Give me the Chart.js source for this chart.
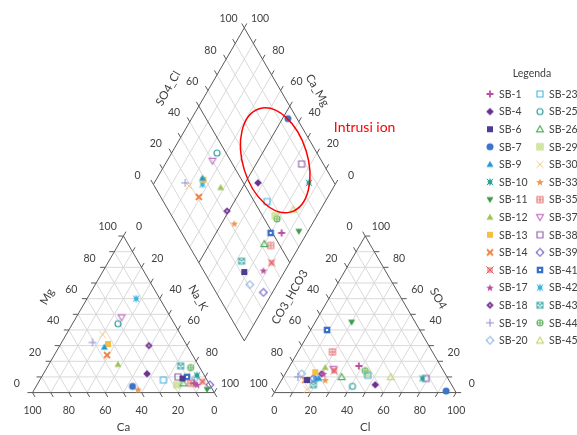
<!DOCTYPE html>
<html>
<head>
<meta charset="utf-8">
<script src="https://cdn.jsdelivr.net/npm/chart.js@4.4.0/dist/chart.umd.min.js"></script>
<style>
  html, body { margin: 0; padding: 0; background: #fff; }
  #wrap { position: relative; width: 577px; height: 435px; }
</style>
</head>
<body>
<div id="wrap"><canvas id="piper"></canvas></div>
<script>
// samples and their milliequivalent percentages
const samples = ['SB-1','SB-4','SB-6','SB-7','SB-9','SB-10','SB-11','SB-12','SB-13','SB-14','SB-16','SB-17','SB-18','SB-19','SB-20',
                 'SB-23','SB-25','SB-26','SB-29','SB-30','SB-33','SB-35','SB-37','SB-38','SB-39','SB-41','SB-42','SB-43','SB-44','SB-45'];
const ca   = [8,31,13,43,46,4,3,44,43,47,3,7,21,51,6, 24,31,14,18,43,41,10,27,15,0,10,13,10,5,8];
const mg   = [6,12,9,4,29,11,2,18,31,24,7,5,30,32,9, 8,44,6,5,37,2,6,48,10,5,10,60,17,16,7];
const naK  = [86,57,78,53,25,85,95,38,26,29,90,88,49,17,85, 68,25,80,77,20,57,84,25,75,95,80,27,73,79,85];
const cl   = [38,53,14,94,20,77,20,20,16,13,26,21,20,8,9, 46,41,32,45,17,24,19,25,79,17,9,18,19,43,59];
const so4  = [17,5,8,1,9,9,45,16,13,8,14,12,12,10,12, 11,4,10,12,2,8,26,15,9,9,40,9,5,14,10];
const hco3 = [45,42,78,5,71,14,35,64,71,79,60,67,68,82,79, 43,55,58,43,81,68,55,60,12,74,51,73,76,43,31];

const markers = ['plus','diamondFill','squareFill','circleFill','triFill','burst','triDownFill','triFill','squareFill','xThick','xBox','star5','diamondDot','plusThin','diamondOpen',
                 'squareOpen','circleOpen','triOpen','squareInner','xThin','star5','squarePlus','triDownOpen','squareOpen','diamondOpen','squareDot','burst','squareX','circlePlus','triOpen'];
const colors = ['#b84fa0','#6d3090','#4f3d91','#3b74c8','#1f9ad6','#2ca39a','#3d9a4a','#9dc45a','#f7be45','#f08040','#e8585a','#b9509e','#7a3c96','#8c8cd0','#8fb4e6',
                '#45b5e5','#2a9c9c','#4fae5a','#b7d46e','#f8c98a','#f29550','#e57373','#c374c4','#8d5cac','#6c5fc4','#3a6fc8','#3cb4e6','#4fb0b0','#5fb15f','#c6d67a'];

const tickVals = [0, 20, 40, 60, 80, 100];

// layout of the diagram in triangle-side units (side = 100)
const H = 50 * Math.sqrt(3);
const GAP = 33;
const RX = 100 + GAP;                 // left corner of anion triangle
const DB = [100 + GAP / 2, GAP * Math.sqrt(3) / 2]; // bottom of diamond

function cationPt(i) { return { x: naK[i] + mg[i] / 2, y: mg[i] * H / 100 }; }
function anionPt(i)  { return { x: RX + cl[i] + so4[i] / 2, y: so4[i] * H / 100 }; }
function diamondPt(i) {
  const u = (so4[i] + cl[i]) / 100, v = (ca[i] + mg[i]) / 100;
  return { x: DB[0] + 50 * (u - v), y: DB[1] + H * (u + v) };
}

function markerCanvas(type, color) {
  const s = 10, c = document.createElement('canvas');
  c.width = s; c.height = s;
  const g = c.getContext('2d'), m = s / 2, r = 3;
  g.strokeStyle = color; g.fillStyle = color; g.lineWidth = 1.1;
  const line = (x1, y1, x2, y2) => { g.moveTo(x1, y1); g.lineTo(x2, y2); };
  g.beginPath();
  switch (type) {
    case 'plus': g.lineWidth = 1.8; line(m - 3.5, m, m + 3.5, m); line(m, m - 3.5, m, m + 3.5); g.stroke(); break;
    case 'plusThin': g.lineWidth = 1; line(m - 4, m, m + 4, m); line(m, m - 4, m, m + 4); g.stroke(); break;
    case 'xThick': g.lineWidth = 1.8; line(m - 3, m - 3, m + 3, m + 3); line(m + 3, m - 3, m - 3, m + 3); g.stroke(); break;
    case 'xThin': g.lineWidth = 1; line(m - 3.5, m - 3.5, m + 3.5, m + 3.5); line(m + 3.5, m - 3.5, m - 3.5, m + 3.5); g.stroke(); break;
    case 'squareFill': g.rect(m - r, m - r, 2 * r, 2 * r); g.fill(); break;
    case 'squareOpen': g.rect(m - r, m - r, 2 * r, 2 * r); g.stroke(); break;
    case 'squareInner': g.rect(m - r, m - r, 2 * r, 2 * r); g.rect(m - 1.2, m - 1.2, 2.4, 2.4); g.stroke(); break;
    case 'squarePlus': g.rect(m - r, m - r, 2 * r, 2 * r); line(m - r, m, m + r, m); line(m, m - r, m, m + r); g.stroke(); break;
    case 'squareX': g.rect(m - r, m - r, 2 * r, 2 * r); line(m - r, m - r, m + r, m + r); line(m + r, m - r, m - r, m + r); g.stroke(); break;
    case 'squareDot': g.rect(m - r - 0.3, m - r - 0.3, 2 * r + 0.6, 2 * r + 0.6); g.fill();
      g.fillStyle = '#fff'; g.fillRect(m - 1, m - 1, 2, 2); break;
    case 'circleFill': g.arc(m, m, r + 0.5, 0, Math.PI * 2); g.fill(); break;
    case 'circleOpen': g.arc(m, m, r, 0, Math.PI * 2); g.stroke(); break;
    case 'circlePlus': g.arc(m, m, r, 0, Math.PI * 2); line(m - r, m, m + r, m); line(m, m - r, m, m + r); g.stroke(); break;
    case 'diamondFill': case 'diamondOpen': case 'diamondDot':
      g.moveTo(m, m - 3.8); g.lineTo(m + 3.8, m); g.lineTo(m, m + 3.8); g.lineTo(m - 3.8, m); g.closePath();
      if (type === 'diamondOpen') g.stroke(); else g.fill();
      if (type === 'diamondDot') { g.fillStyle = '#d9c6e6'; g.fillRect(m - 0.8, m - 0.8, 1.6, 1.6); }
      break;
    case 'triFill': case 'triOpen':
      g.moveTo(m, m - 3.4); g.lineTo(m + 3.5, m + 2.6); g.lineTo(m - 3.5, m + 2.6); g.closePath();
      type === 'triOpen' ? g.stroke() : g.fill(); break;
    case 'triDownFill': case 'triDownOpen':
      g.moveTo(m - 3.5, m - 2.6); g.lineTo(m + 3.5, m - 2.6); g.lineTo(m, m + 3.4); g.closePath();
      type === 'triDownOpen' ? g.stroke() : g.fill(); break;
    case 'star5':
      for (let k = 0; k < 10; k++) {
        const a = -Math.PI / 2 + k * Math.PI / 5, rr = k % 2 ? 1.7 : 4;
        const px = m + rr * Math.cos(a), py = m + 0.4 + rr * Math.sin(a);
        k ? g.lineTo(px, py) : g.moveTo(px, py);
      }
      g.closePath(); g.fill(); break;
    case 'burst':
      g.fillRect(m - 2.2, m - 2.2, 4.4, 4.4);
      g.lineWidth = 1;
      line(m - 3.2, m - 3.2, m + 3.2, m + 3.2); line(m + 3.2, m - 3.2, m - 3.2, m + 3.2); line(m, m - 3.6, m, m + 3.6);
      g.stroke(); break;
    case 'xBox':
      g.lineWidth = 1;
      g.rect(m - 2, m - 2, 4, 4);
      line(m - 3.6, m - 3.6, m + 3.6, m + 3.6); line(m + 3.6, m - 3.6, m - 3.6, m + 3.6);
      g.stroke(); break;
  }
  return c;
}

const icons = samples.map((s, i) => markerCanvas(markers[i], colors[i]));

const TXT = '#404040';
const FONT = 'Lato, "Open Sans", sans-serif';

const piperFrame = {
  id: 'piperFrame',
  beforeDatasetsDraw(chart) {
    const { ctx, scales: { x, y } } = chart;
    const P = (p) => [x.getPixelForValue(p[0]), y.getPixelForValue(p[1])];
    const lerp = (a, b, t) => [a[0] + (b[0] - a[0]) * t, a[1] + (b[1] - a[1]) * t];
    const add = (a, d, s) => [a[0] + d[0] * s, a[1] + d[1] * s];
    const seg = (a, b) => { const p = P(a), q = P(b); ctx.moveTo(p[0], p[1]); ctx.lineTo(q[0], q[1]); };
    const norm = (d) => { const l = Math.hypot(d[0], d[1]); return [d[0] / l, d[1] / l]; };
    const text = (s, p, rot, font) => {
      const q = P(p);
      ctx.save(); ctx.translate(q[0], q[1]); ctx.rotate(rot || 0);
      ctx.font = font; ctx.fillStyle = TXT; ctx.textAlign = 'center'; ctx.textBaseline = 'middle';
      ctx.fillText(s, 0, 0); ctx.restore();
    };
    const tickFont = '10.5px ' + FONT, titleFont = '11.5px ' + FONT;

    // ternary triangle: corners c[0..2]; axes = [{i, j}] edge from corner j (0) to corner i (100)
    function triangle(c, axes) {
      ctx.save();
      ctx.lineWidth = 1; ctx.strokeStyle = '#d9d9d9';
      ctx.beginPath();
      for (let i = 0; i < 3; i++) {
        const j = (i + 1) % 3, k = (i + 2) % 3;
        for (let t = 10; t < 100; t += 10) seg(lerp(c[j], c[i], t / 100), lerp(c[k], c[i], t / 100));
      }
      ctx.stroke();
      ctx.strokeStyle = '#595959';
      ctx.beginPath();
      seg(c[0], c[1]); seg(c[1], c[2]); seg(c[2], c[0]);
      axes.forEach(a => {
        const k = 3 - a.i - a.j;
        const dir = norm([c[a.j][0] - c[k][0], c[a.j][1] - c[k][1]]);
        for (let t = 0; t <= 100; t += 10) {
          const p = lerp(c[a.j], c[a.i], t / 100);
          seg(p, add(p, dir, 2.8));
        }
      });
      ctx.stroke();
      ctx.restore();
      axes.forEach(a => {
        const k = 3 - a.i - a.j;
        const mid = lerp(c[a.j], c[a.i], 0.5);
        const e = norm([c[a.i][0] - c[a.j][0], c[a.i][1] - c[a.j][1]]);
        let n = [-e[1], e[0]];
        if ((mid[0] - c[k][0]) * n[0] + (mid[1] - c[k][1]) * n[1] < 0) n = [-n[0], -n[1]];
        tickVals.forEach(v => text(String(v), add(lerp(c[a.j], c[a.i], v / 100), n, 10), 0, tickFont));
        text(a.title, add(mid, n, a.off), a.rot, titleFont);
      });
    }

    const L = [[0, 0], [100, 0], [50, H]];            // Ca, Na_K, Mg
    triangle(L, [
      { i: 0, j: 1, title: 'Ca', off: 19, rot: 0 },
      { i: 2, j: 0, title: 'Mg', off: 19.5, rot: -Math.PI / 3 },
      { i: 1, j: 2, title: 'Na_K', off: 18.5, rot: Math.PI / 3 }
    ]);
    const R = [[RX, 0], [RX + 100, 0], [RX + 50, H]]; // CO3_HCO3, Cl, SO4
    triangle(R, [
      { i: 1, j: 0, title: 'Cl', off: 19, rot: 0 },
      { i: 0, j: 2, title: 'CO3_HCO3', off: 19, rot: -Math.PI / 3 },
      { i: 2, j: 1, title: 'SO4', off: 17.5, rot: Math.PI / 3 }
    ]);

    // diamond
    const B = DB, Rv = [DB[0] + 50, DB[1] + H], Lv = [DB[0] - 50, DB[1] + H], T = [DB[0], DB[1] + 2 * H];
    const D = (u, v) => [B[0] + 50 * (u - v), B[1] + H * (u + v)];
    ctx.save();
    ctx.lineWidth = 1; ctx.strokeStyle = '#d9d9d9';
    ctx.beginPath();
    for (let t = 10; t < 100; t += 10) {
      if (t === 50) continue;
      seg(D(t / 100, 0), D(t / 100, 1)); seg(D(0, t / 100), D(1, t / 100));
    }
    ctx.stroke();
    ctx.strokeStyle = '#595959';
    ctx.beginPath();
    seg(B, Rv); seg(Rv, T); seg(T, Lv); seg(Lv, B);
    seg(D(0.5, 0), D(0.5, 1)); seg(D(0, 0.5), D(1, 0.5));
    const upL = norm([-50, H]), upR = norm([50, H]);
    for (let t = 0; t <= 100; t += 10) {
      const a = D(t / 100, 1), b = D(1, t / 100);
      seg(a, add(a, upL, 2.8)); seg(b, add(b, upR, 2.8));
    }
    ctx.stroke();
    ctx.restore();
    const nL = [-Math.sqrt(3) / 2, 0.5], nR = [Math.sqrt(3) / 2, 0.5];
    tickVals.forEach(v => {
      text(String(v), add(D(v / 100, 1), nL, 10), 0, tickFont);
      text(String(v), add(D(1, v / 100), nR, 10), 0, tickFont);
    });
    text('SO4_Cl', add(lerp(Lv, T, 0.5), nL, 19.5), -Math.PI / 3, titleFont);
    text('Ca_Mg', add(lerp(T, Rv, 0.5), nR, 17.5), Math.PI / 3, titleFont);
  },
  afterDatasetsDraw(chart) {
    const { ctx, scales: { x, y } } = chart;
    const k = x.getPixelForValue(1) - x.getPixelForValue(0);
    // annotation: sea-water intrusion zone
    ctx.save();
    ctx.strokeStyle = '#ff0000'; ctx.lineWidth = 1.5;
    ctx.beginPath();
    ctx.ellipse(x.getPixelForValue(133.5), y.getPixelForValue(128.5), 17.8 * k, 29.7 * k, -0.3, 0, Math.PI * 2);
    ctx.stroke();
    ctx.fillStyle = '#ff0000'; ctx.font = '14px ' + FONT;
    ctx.textAlign = 'center'; ctx.textBaseline = 'middle';
    ctx.fillText('Intrusi ion', x.getPixelForValue(182.7), y.getPixelForValue(146.9));
    ctx.restore();
  },
  afterDraw(chart) {
    const ctx = chart.ctx;
    ctx.save();
    ctx.fillStyle = TXT; ctx.font = '10.5px ' + FONT;
    ctx.textAlign = 'center'; ctx.textBaseline = 'middle';
    ctx.fillText('Legenda', 532, 74);
    ctx.textAlign = 'left';
    samples.forEach((s, i) => {
      const col = i < 15 ? 0 : 1, row = i % 15;
      const mx = col ? 540 : 490, my = 94 + row * 17.6;
      ctx.drawImage(icons[i], mx - 5, my - 5);
      ctx.fillText(s, mx + 9, my + 0.5);
    });
    ctx.restore();
  }
};

const datasets = samples.map((s, i) => ({
  label: s,
  data: [cationPt(i), anionPt(i), diamondPt(i)],
  pointStyle: icons[i],
  pointRadius: 4,
  borderColor: colors[i],
  backgroundColor: colors[i],
  showLine: false
}));

new Chart(document.getElementById('piper'), {
  type: 'scatter',
  data: { datasets },
  options: {
    responsive: true,
    maintainAspectRatio: false,
    animation: false,
    events: [],
    layout: { padding: 0 },
    scales: {
      x: { type: 'linear', display: false, min: -28 / 1.85, max: (577 - 28) / 1.85 },
      y: { type: 'linear', display: false, min: (396.7 - 435) / 1.85, max: 396.7 / 1.85 }
    },
    plugins: { legend: { display: false }, tooltip: { enabled: false } }
  },
  plugins: [piperFrame]
});
</script>
</body>
</html>
